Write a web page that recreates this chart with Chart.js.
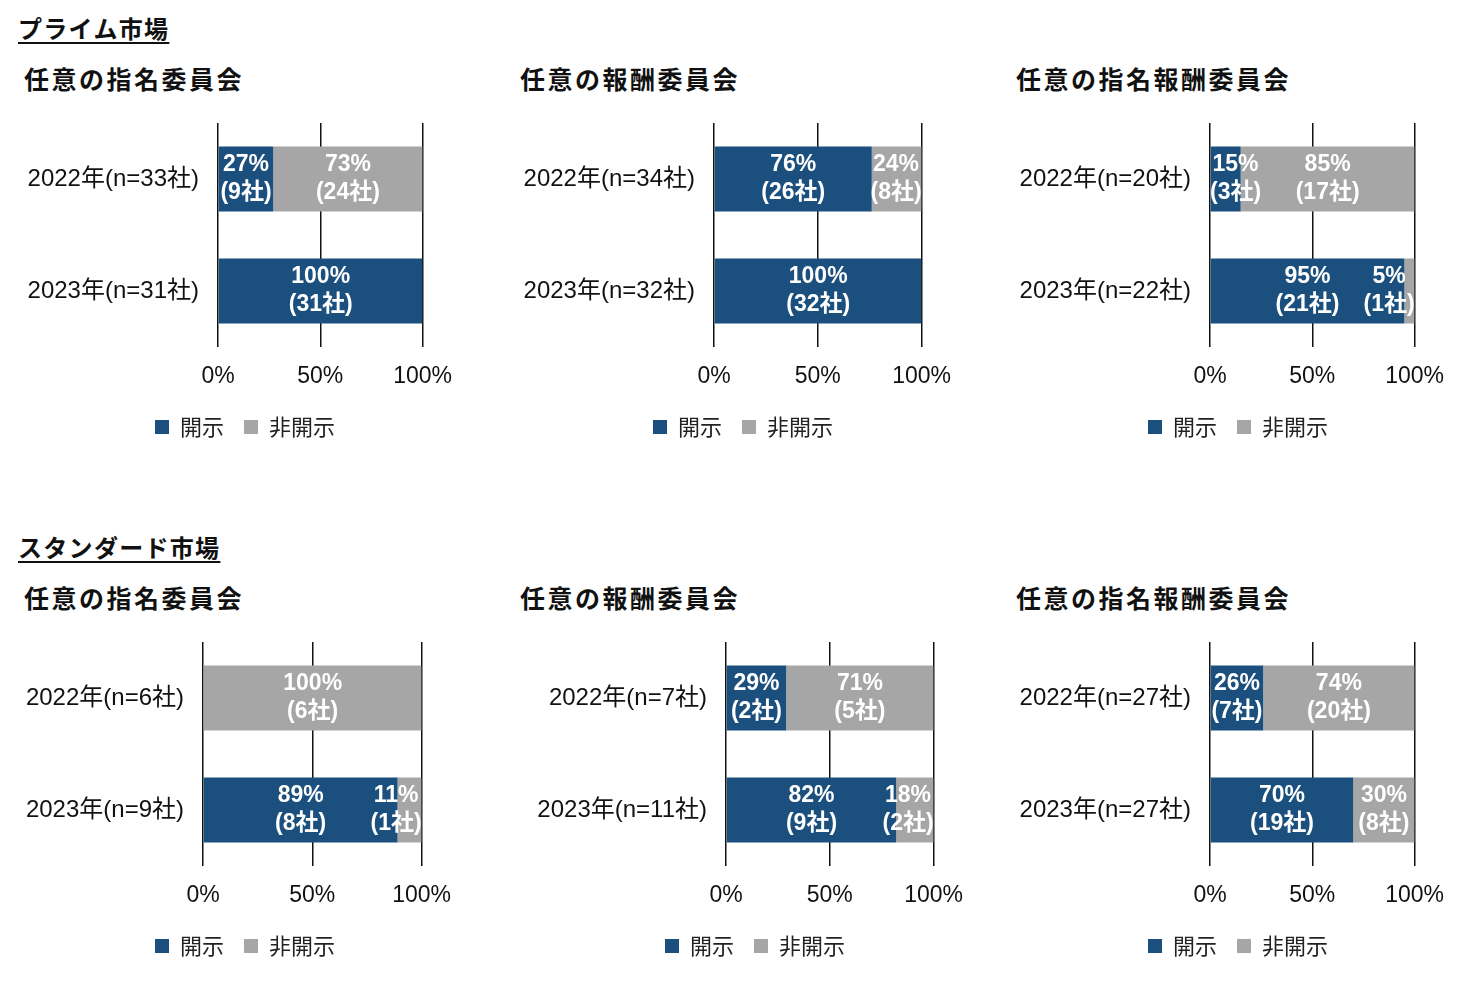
<!DOCTYPE html>
<html lang="ja">
<head>
<meta charset="utf-8">
<title>委員会 開示状況</title>
<script src="https://cdn.jsdelivr.net/npm/chart.js@4.4.1/dist/chart.umd.min.js"></script>
<style>
  body { margin: 0; background: #fff; width: 1474px; height: 984px; position: relative; overflow: hidden; }
  .market { position: absolute; left: 18px; font: bold 24px "Noto Sans CJK JP", sans-serif; line-height: 26px;
            text-decoration: underline; text-underline-offset: 4px; text-decoration-thickness: 2px; color: #111; letter-spacing: 1.3px; }
  .title { position: absolute; font: bold 25px "Noto Sans CJK JP", sans-serif; line-height: 30px; letter-spacing: 2.5px; color: #111; }
  canvas { position: absolute; }
</style>
</head>
<body>
<script>
const marketTitles = ["プライム市場", "スタンダード市場"];
const chartTitles = ["任意の指名委員会", "任意の報酬委員会", "任意の指名報酬委員会",
                     "任意の指名委員会", "任意の報酬委員会", "任意の指名報酬委員会"];
const seriesNames = ["開示", "非開示"];
const yearLabels = [
  ["2022年(n=33社)", "2023年(n=31社)"],
  ["2022年(n=34社)", "2023年(n=32社)"],
  ["2022年(n=20社)", "2023年(n=22社)"],
  ["2022年(n=6社)", "2023年(n=9社)"],
  ["2022年(n=7社)", "2023年(n=11社)"],
  ["2022年(n=27社)", "2023年(n=27社)"]
];
const disclosedPct = [[27, 100], [76, 100], [15, 95], [0, 89], [29, 82], [26, 70]];
const undisclosedPct = [[73, 0], [24, 0], [85, 5], [100, 11], [71, 18], [74, 30]];
const disclosedCount = [[9, 31], [26, 32], [3, 21], [0, 8], [2, 9], [7, 19]];
const undisclosedCount = [[24, 0], [8, 0], [17, 1], [6, 1], [5, 2], [20, 8]];
const tickLabels = ["0%", "50%", "100%"];

const BLUE = "#1b4f7d";
const GRAY = "#a6a6a6";

// where each panel sits on the page
const panels = [
  { plotLeft: 218, plotRight: 423, legendX: 245, dy: 0 },
  { plotLeft: 714, plotRight: 922, legendX: 743, dy: 0 },
  { plotLeft: 1210, plotRight: 1415, legendX: 1238, dy: 0 },
  { plotLeft: 203, plotRight: 422, legendX: 245, dy: 519 },
  { plotLeft: 726, plotRight: 934, legendX: 755, dy: 519 },
  { plotLeft: 1210, plotRight: 1415, legendX: 1238, dy: 519 }
];
const titleLeft = [24, 520, 1016];

Chart.defaults.font.family = '"Liberation Sans", "Noto Sans CJK JP", sans-serif';
Chart.defaults.color = "#111";

// percentage + count labels inside the bars, kept inside the plot area
const barLabels = {
  id: "barLabels",
  afterDatasetsDraw(chart) {
    const ctx = chart.ctx;
    const area = chart.chartArea;
    ctx.save();
    ctx.font = 'bold 23px "Liberation Sans", "Noto Sans CJK JP", sans-serif';
    ctx.fillStyle = "#fff";
    ctx.textAlign = "center";
    ctx.textBaseline = "middle";
    chart.data.datasets.forEach((ds, i) => {
      chart.getDatasetMeta(i).data.forEach((bar, j) => {
        const v = ds.data[j];
        if (!v) return;
        const l1 = v + "%";
        const l2 = "(" + ds.counts[j] + "社)";
        const w = Math.max(ctx.measureText(l1).width, ctx.measureText(l2).width);
        let cx = (bar.base + bar.x) / 2;
        cx = Math.max(cx, area.left + w / 2);
        cx = Math.min(cx, area.right - w / 2);
        ctx.fillText(l1, cx, bar.y - 14);
        ctx.fillText(l2, cx, bar.y + 14);
      });
    });
    ctx.restore();
  }
};

marketTitles.forEach((t, i) => {
  const d = document.createElement("div");
  d.className = "market";
  d.textContent = t;
  d.style.top = (15 + i * 519) + "px";
  document.body.appendChild(d);
});

panels.forEach((p, k) => {
  const t = document.createElement("div");
  t.className = "title";
  t.textContent = chartTitles[k];
  t.style.left = titleLeft[k % 3] + "px";
  t.style.top = (63 + p.dy) + "px";
  document.body.appendChild(t);

  const L = Math.max(0, p.plotLeft - 200);
  const padRight = 45;
  const W = p.plotRight + padRight - L;
  const yWidth = p.plotLeft - L;
  const H = 348;

  const c = document.createElement("canvas");
  c.style.left = L + "px";
  c.style.top = (100 + p.dy) + "px";
  c.style.width = W + "px";
  c.style.height = H + "px";
  c.width = W;
  c.height = H;
  document.body.appendChild(c);

  // move the legend so it is centred where the reference has it
  const legendPlace = {
    id: "legendPlace",
    afterLayout(chart) {
      const lg = chart.legend;
      const dx = (p.legendX - L) - (lg.left + lg.right) / 2;
      lg.left += dx;
      lg.right += dx;
    }
  };

  new Chart(c, {
    type: "bar",
    data: {
      labels: yearLabels[k],
      datasets: [
        { label: seriesNames[0], data: disclosedPct[k], counts: disclosedCount[k], backgroundColor: BLUE },
        { label: seriesNames[1], data: undisclosedPct[k], counts: undisclosedCount[k], backgroundColor: GRAY }
      ]
    },
    options: {
      indexAxis: "y",
      responsive: false,
      animation: false,
      categoryPercentage: 1,
      barPercentage: 0.58,
      layout: { padding: { top: 23, left: 0, right: padRight, bottom: 0 } },
      scales: {
        x: {
          stacked: true,
          min: 0,
          max: 100,
          ticks: {
            stepSize: 50,
            padding: 16,
            font: { size: 23 },
            color: "#111",
            callback: (v) => tickLabels[v / 50]
          },
          grid: { color: "#111", lineWidth: 1.5, drawTicks: false },
          border: { display: false },
          afterFit: (s) => { s.height = 49; }
        },
        y: {
          stacked: true,
          ticks: { padding: 19, font: { size: 24 }, color: "#111" },
          grid: { display: false, drawTicks: false },
          border: { display: false },
          afterFit: (s) => { s.width = yWidth; s.paddingTop = 0; s.paddingBottom = 0; }
        }
      },
      plugins: {
        legend: {
          position: "bottom",
          labels: {
            boxWidth: 14,
            boxHeight: 14,
            padding: 20,
            color: "#222",
            font: { size: 22, family: '"Noto Sans CJK JP", sans-serif' }
          }
        },
        tooltip: { enabled: false }
      }
    },
    plugins: [barLabels, legendPlace]
  });
});
</script>
</body>
</html>
